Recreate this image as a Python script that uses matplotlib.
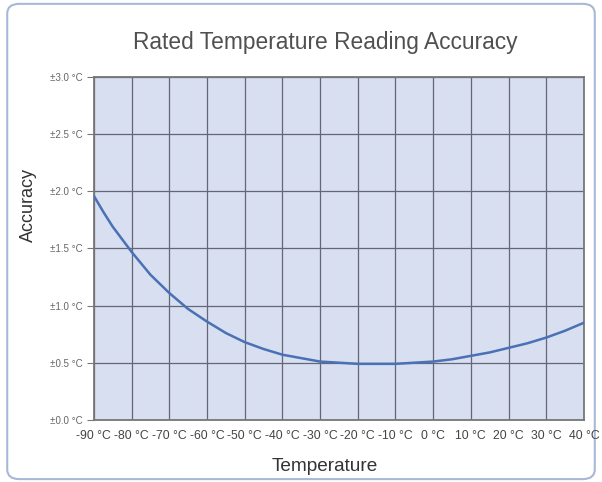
import numpy as np
import matplotlib.pyplot as plt
from matplotlib.patches import FancyBboxPatch

temps = [-90, -87.5, -85, -82.5, -80, -77.5, -75, -72.5, -70, -65, -60, -55, -50,
         -45, -40, -35, -30, -25, -20, -15, -10, -5, 0, 5, 10, 15, 20, 25, 30, 35, 40]
accuracy = [1.96, 1.82, 1.69, 1.58, 1.47, 1.37, 1.27, 1.19, 1.11, 0.97, 0.86, 0.76,
            0.68, 0.62, 0.57, 0.54, 0.51, 0.50, 0.49, 0.49, 0.49, 0.50, 0.51, 0.53,
            0.56, 0.59, 0.63, 0.67, 0.72, 0.78, 0.85]

x_ticks = list(range(-90, 41, 10))
x_labels = [f"{t} °C" for t in x_ticks]
y_ticks = [0.0, 0.5, 1.0, 1.5, 2.0, 2.5, 3.0]
y_labels = [f"±{v:.1f} °C" for v in y_ticks]

plt.rcParams['font.family'] = ['Liberation Sans', 'DejaVu Sans']

fig = plt.figure(figsize=(6.02, 4.82), dpi=100)
fig.patch.set_facecolor("white")

# rounded outer frame
frame = FancyBboxPatch((0.012, 0.006), 0.976, 0.986,
                       boxstyle="round,pad=0,rounding_size=0.02",
                       transform=fig.transFigure, facecolor="none",
                       edgecolor="#a9b8d6", linewidth=1.5, zorder=-1)
fig.patches.append(frame)

ax = fig.add_axes([0.156, 0.129, 0.814, 0.711])
ax.set_facecolor("#d7dff0")
ax.plot(temps, accuracy, color="#4a70b5", linewidth=1.8, zorder=3)

ax.set_xlim(-90, 40)
ax.set_ylim(0, 3)
ax.set_xticks(x_ticks)
ax.set_xticklabels(x_labels, fontsize=8.8, color="#444444")
ax.set_yticks(y_ticks)
ax.set_yticklabels(y_labels, fontsize=7, color="#666666")
ax.tick_params(axis="x", length=0, pad=7)
ax.tick_params(axis="y", length=5, color="#777777", pad=3)
ax.grid(True, color="#666677", linewidth=0.9)
for s in ax.spines.values():
    s.set_color("#777777")
    s.set_linewidth(1.3)

fig.text(0.54, 0.912, "Rated Temperature Reading Accuracy", ha="center",
         va="center", fontsize=16.4, color="#505050")
fig.text(0.047, 0.575, "Accuracy", ha="center", va="center", rotation=90,
         fontsize=13, color="#333333")
fig.text(0.54, 0.032, "Temperature", ha="center", va="center",
         fontsize=13.7, color="#333333")

fig.savefig("out.png", dpi=100)
